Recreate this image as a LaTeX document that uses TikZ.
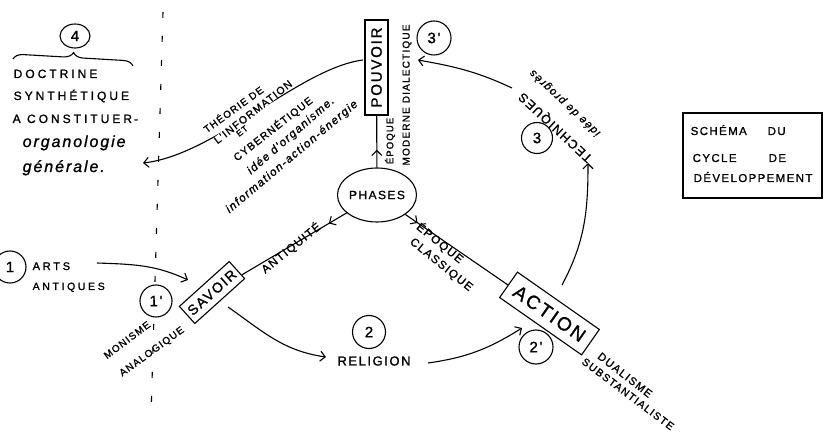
\documentclass[tikz,border=0pt]{standalone}
\usepackage{fontspec}
\setmainfont{Liberation Sans}
\newfontfamily\hand[LetterSpace=12,FakeBold=1.2]{Liberation Sans}
\newfontfamily\handw[LetterSpace=25,FakeBold=1.2]{Liberation Sans}
\usetikzlibrary{arrows.meta,decorations.markings,decorations.pathreplacing,shapes.geometric}
\newcommand\hs[1]{\hand\fontsize{#1}{#1}\selectfont}
\newcommand\hw[1]{\handw\fontsize{#1}{#1}\selectfont}
\tikzset{
  ln/.style={line width=1.1pt},
  arr/.style={line width=1.1pt, -{Straight Barb[length=5pt,width=10pt]}},
  phbox/.style={draw, line width=1.1pt, rectangle, inner sep=0pt},
  num/.style={draw, line width=1.1pt, circle, inner sep=0pt, font=\hs{15}},
  lbl/.style={inner sep=0.5pt},
  markarrow/.style={postaction={decorate}, decoration={markings, mark=at position #1 with {\arrow{Straight Barb[length=5pt,width=10pt]}}}},
}
\begin{document}
\begin{tikzpicture}[x=1pt,y=1pt]
\useasboundingbox (0,0) rectangle (824,434);
\clip (0,0) rectangle (824,434);

% dashed divider
\coordinate (dv1) at (163,422);
\coordinate (dv2) at (151,18);
\draw[ln, dash pattern=on 6pt off 18pt] (dv1) -- (dv2);

% main nodes
\node[phbox, rotate=90, minimum width=95pt, minimum height=23pt, font=\hs{15}] (pouv) at (376.5,366.5) {POUVOIR};
\node[phbox, rotate=42, minimum width=67pt, minimum height=23pt, font=\hs{14}] (sav) at (212,141.5) {SAVOIR};
\node[phbox, rotate=-35, minimum width=100pt, minimum height=31pt, font=\hs{19}] (act) at (549.5,120.5) {ACTION};
\node[draw, ln, ellipse, inner sep=0pt, minimum width=64pt, minimum height=54pt, font=\hs{12}] (ph) at (377,239) {PHASES};

% numbered circles
\node[draw, ln, ellipse, inner sep=0pt, minimum width=30pt, minimum height=24pt, font=\hs{15}] (c4) at (75,398) {4};
\node[num, minimum size=32pt] (c1) at (10,167) {1};
\node[num, minimum size=32pt] (c1p) at (156,133) {1'};
\node[num, minimum size=33pt] (c2) at (369,102) {2};
\node[num, minimum size=34pt] (c2p) at (536,87) {2'};
\node[num, minimum size=31pt] (c3) at (537,296) {3};
\node[num, minimum size=34pt] (c3p) at (434,396) {3'};

% phases spokes
\draw[ln, markarrow=0.34] (ph) -- (pouv);
\draw[ln, markarrow=0.17] (ph) -- (sav);
\draw[ln, markarrow=0.12] (ph) -- (act);

% cycle connectors
\coordinate (a1s) at (97,171);
\coordinate (a1e) at (188,154);
\draw[arr] (a1s) to[out=-2, in=155] (a1e);

\node[lbl, font=\hs{13}] (rel) at (374,73) {RELIGION};
\coordinate (srs) at (228,127);
\coordinate (sre) at (326,77);
\draw[arr] (srs) to[out=-35, in=172] (sre);

\coordinate (ras) at (428,71);
\coordinate (rae) at (522,106);
\draw[arr] (ras) to[out=8, in=212] (rae);

\coordinate (a3s) at (562,149);
\coordinate (a3e) at (588,271);
\draw[arr] (a3s) to[out=62, in=-90] (a3e);

\coordinate (p3s) at (512,346);
\coordinate (p3e) at (418,374);
\draw[arr] (p3s) to[out=155, in=-10] (p3e);

\coordinate (pgs) at (363,374);
\coordinate (pge) at (143,271);
\draw[arr] (pgs) .. controls (300,366) and (215,279) .. (pge);

% labels on spokes
\node[lbl, rotate=39, font=\hs{11.5}] (lantiq) at (291,186) {ANTIQUITÉ};
\node[lbl, rotate=-39, font=\hs{11.5}] (lepo) at (440,191) {ÉPOQUE};
\node[lbl, rotate=-39, font=\hs{11.5}] (lcla) at (441,169) {CLASSIQUE};
\node[lbl, rotate=90, font=\hs{9.5}] (lepm) at (390,293) {ÉPOQUE};
\node[lbl, rotate=90, font=\hs{10}] (lmod) at (407,339) {MODERNE DIALECTIQUE};

% characteristics
\node[lbl, rotate=37, font=\hs{10}] (lmon) at (127,94) {MONISME};
\node[lbl, rotate=36, font=\hs{10}] (lana) at (152,82) {ANALOGIQUE};
\node[lbl, rotate=-38, font=\hs{11}] (ldua) at (625,59) {DUALISME};
\node[lbl, rotate=-37, font=\hs{10.5}] (lsub) at (628,40) {SUBSTANTIALISTE};

% techniques
\node[lbl, rotate=137, font=\hs{12.5}] (ltech) at (556,307) {TECHNIQUES};
\node[lbl, rotate=137, font=\hs{11}\itshape] (lprog) at (565,331) {idée de progrès};

% theory block
\node[lbl, rotate=36, font=\hs{10}] (lth) at (233,325) {THÉORIE DE};
\node[lbl, rotate=38, font=\hs{10.5}, fill=white, inner sep=0pt] (linf) at (253,322) {L'INFORMATION};
\node[lbl, rotate=38, font=\hs{8.5}] (let) at (242,303) {ET};
\node[lbl, rotate=38, font=\hs{10.5}] (lcyb) at (273,305) {CYBERNÉTIQUE};
\node[lbl, rotate=41, font=\hs{11.5}\itshape] (lorg) at (291,298) {idée d'organisme.};
\node[lbl, rotate=40, font=\hs{11.5}\itshape] (liae) at (292,277) {information-action-énergie};

% left block
\draw[ln, decorate, decoration={brace, amplitude=10pt}] (13,375) -- (133,368);
\node[lbl, anchor=base west, font=\hw{12}] (ldoc) at (13,356) {DOCTRINE};
\node[lbl, anchor=base west, font=\hw{12}] (lsyn) at (13,334) {SYNTHÉTIQUE};
\node[lbl, anchor=base west, font=\hw{12}] (lcon) at (12,311) {A CONSTITUER\,-};
\node[lbl, anchor=base west, font=\hs{16}\itshape] (lorgn) at (22,287) {organologie};
\node[lbl, anchor=base west, font=\hs{16}\itshape] (lgen) at (22,262) {générale.};

\node[lbl, anchor=base west, font=\hw{11}] (larts) at (32,164) {ARTS};
\node[lbl, anchor=base west, font=\hw{10.5}] (lant) at (32,144) {ANTIQUES};

% title box
\node[draw, ln, minimum width=139pt, minimum height=85pt, inner sep=0pt] (title) at (752.5,278.5) {};
\node[lbl, anchor=base west, font=\hs{11.5}] (t1) at (690,299) {SCHÉMA};
\node[lbl, anchor=base west, font=\hs{11.5}] (t2) at (767,299) {DU};
\node[lbl, anchor=base west, font=\hs{11.5}] (t3) at (692,272) {CYCLE};
\node[lbl, anchor=base west, font=\hs{11.5}] (t4) at (768,272) {DE};
\node[lbl, anchor=base west, font=\hs{11.5}] (t5) at (693,252) {DÉVELOPPEMENT};
\end{tikzpicture}
\end{document}
